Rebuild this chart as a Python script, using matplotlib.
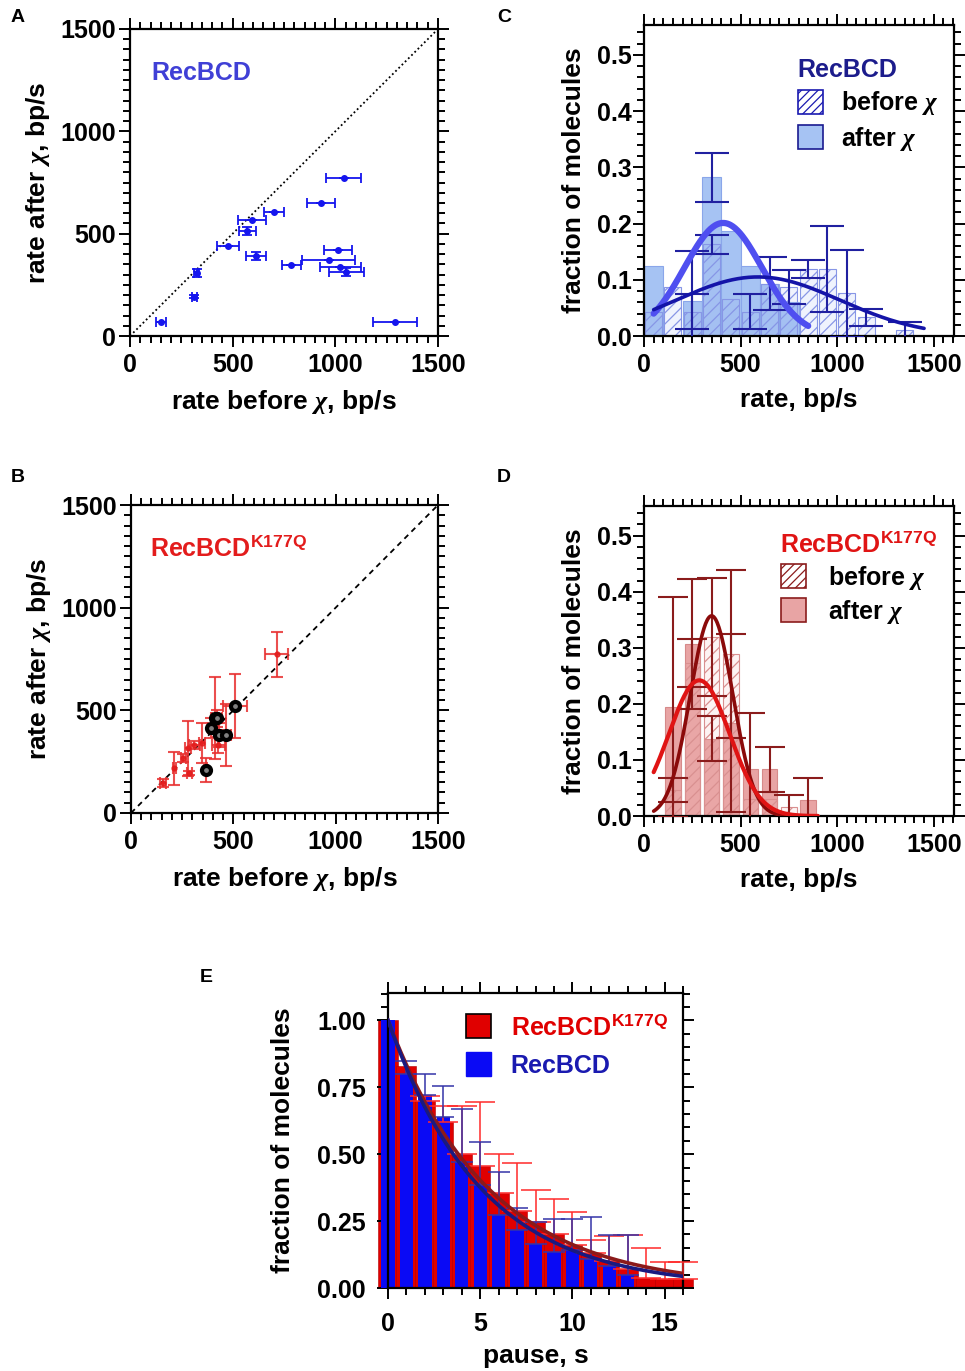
import numpy as np
import matplotlib
matplotlib.use("Agg")
import matplotlib.pyplot as plt
from matplotlib.patches import Patch
from matplotlib.ticker import MultipleLocator

plt.rcParams['font.family'] = ['Liberation Sans', 'DejaVu Sans']
plt.rcParams['font.weight'] = 'bold'
plt.rcParams['axes.labelweight'] = 'bold'
plt.rcParams['mathtext.fontset'] = 'custom'
plt.rcParams['mathtext.rm'] = 'Liberation Sans:bold'
plt.rcParams['mathtext.bf'] = 'Liberation Sans:bold'
plt.rcParams['mathtext.it'] = 'Liberation Serif:italic'
plt.rcParams['hatch.linewidth'] = 0.9

# ---------------- Panel A: RecBCD rate before/after chi ----------------
a_before = [1040, 931, 702, 593, 572, 478, 613, 325, 314, 151, 1014, 967, 785, 1025, 1053, 1289]
a_after = [770, 651, 606, 568, 515, 438, 392, 309, 192, 67, 419, 373, 345, 339, 314, 67]
a_xerr = [84, 68, 49, 67, 42, 54, 49, 12, 13, 24, 69, 128, 46, 99, 85, 107]
a_yerr = [0, 0, 0, 0, 20, 0, 20, 20, 8, 0, 0, 0, 0, 0, 20, 0]

# ---------------- Panel B: RecBCD K177Q ----------------
b_before = [712, 508, 410, 420, 391, 430, 463, 366, 280, 256, 285, 212, 155, 345, 310, 427]
b_after = [773, 521, 461, 461, 415, 380, 380, 209, 315, 266, 196, 218, 145, 339, 330, 331]
b_xerr = [57, 59, 20, 25, 15, 20, 25, 10, 15, 12, 12, 8, 15, 15, 25, 30]
b_yerr = [110, 157, 200, 40, 50, 60, 150, 57, 133, 20, 10, 81, 20, 97, 20, 40]
b_black_before = [508, 410, 420, 391, 430, 463, 366]
b_black_after = [521, 461, 461, 415, 380, 380, 209]

# ---------------- Panel C: RecBCD histograms ----------------
c_centers = [50, 150, 250, 350, 450, 550, 650, 750, 850, 950, 1050, 1150, 1250, 1350, 1450]
c_before = [0.043, 0.087, 0.043, 0.163, 0.065, 0.043, 0.093, 0.087, 0.119, 0.119, 0.076, 0.033, 0.0, 0.011, 0.0]
c_before_err = [0, 0, 0.031, 0.017, 0, 0.031, 0.047, 0.030, 0.016, 0.077, 0.077, 0.015, 0, 0.014, 0]
c_after = [0.125, 0.0, 0.062, 0.282, 0.187, 0.125, 0.093, 0.060, 0, 0, 0, 0, 0, 0, 0]
c_after_err = [0, 0, 0.089, 0.044, 0, 0, 0, 0, 0, 0, 0, 0, 0, 0, 0]
c_fit_after = [0.201, 410, 200, 50, 850]     # amplitude, mean, sd, x from, x to
c_fit_before = [0.105, 590, 425, 50, 1450]

# ---------------- Panel D: RecBCD K177Q histograms ----------------
d_centers = [150, 250, 350, 450, 550, 650, 750, 850]
d_before = [0.046, 0.273, 0.319, 0.289, 0.031, 0.031, 0.016, 0.0]
d_before_err = [0.021, 0.042, 0.105, 0.150, 0, 0, 0.021, 0]
d_after = [0.195, 0.307, 0.138, 0.166, 0.083, 0.083, 0.0, 0.028]
d_after_err = [0.196, 0.116, 0.040, 0.159, 0.10, 0.04, 0, 0.039]
d_fit_before = [0.357, 350, 110, 50, 900]
d_fit_after = [0.242, 286, 157, 50, 900]

# ---------------- Panel E: pause distributions ----------------
e_red_x = list(range(17))
e_red = [1.0, 0.83, 0.70, 0.62, 0.50, 0.456, 0.354, 0.289, 0.246, 0.20, 0.161, 0.13, 0.10, 0.07, 0.037, 0.035, 0.035]
e_red_top = [np.nan, np.nan, 0.717, 0.68, 0.68, 0.693, 0.50, 0.468, 0.366, 0.333, 0.283, 0.18, 0.193, 0.199, 0.149, 0.097, 0.097]
e_blue_x = list(range(14))
e_blue = [1.0, 0.80, 0.72, 0.637, 0.472, 0.385, 0.273, 0.217, 0.165, 0.134, 0.143, 0.109, 0.081, 0.05]
e_blue_top = [np.nan, 0.847, 0.80, 0.755, 0.67, 0.544, 0.432, 0.30, 0.246, 0.257, 0.257, 0.267, 0.199, 0.199]
e_fit_red_tau = 5.5
e_fit_blue_tau = 5.1

W, H = 965, 1371
fig = plt.figure(figsize=(W / 100, H / 100), dpi=100)

FS_TICK = 18
FS_LAB = 19
FS_TXT = 18


def add_ax(x0, y0, x1, y1):
    return fig.add_axes([x0 / W, 1 - y1 / H, (x1 - x0) / W, (y1 - y0) / H])


def style(ax, xmaj, xmin, ymaj, ymin, ypad=2, xpad=4):
    for s in ax.spines.values():
        s.set_linewidth(1.6)
    ax.xaxis.set_major_locator(MultipleLocator(xmaj))
    ax.xaxis.set_minor_locator(MultipleLocator(xmin))
    ax.yaxis.set_major_locator(MultipleLocator(ymaj))
    ax.yaxis.set_minor_locator(MultipleLocator(ymin))
    ax.tick_params(which='both', direction='out', top=True, right=True,
                   width=1.4, labelsize=FS_TICK, colors='black')
    ax.tick_params(which='major', length=8)
    ax.tick_params(which='minor', length=5)
    ax.tick_params(axis='y', which='major', pad=ypad)
    ax.tick_params(axis='x', which='major', pad=xpad)


def gauss(p, n=200):
    amp, mu, sd, x0, x1 = p
    x = np.linspace(x0, x1, n)
    return x, amp * np.exp(-(x - mu) ** 2 / (2 * sd ** 2))


def nz(xs, vals, errs):
    idx = [i for i, e in enumerate(errs) if e > 0]
    return [xs[i] for i in idx], [vals[i] for i in idx], [errs[i] for i in idx]


# ===== Panel A =====
axA = add_ax(130, 29, 438, 336)
axA.plot([0, 1500], [0, 1500], color='black', lw=1.3, ls=(0, (1, 1.5)), zorder=1)
axA.errorbar(a_before, a_after, xerr=a_xerr, yerr=a_yerr, fmt='o', ms=4,
             color='#1515ee', ecolor='#1515ee', elinewidth=1.3, capsize=3.5,
             capthick=1.3, zorder=3)
axA.set_xlim(0, 1500)
axA.set_ylim(0, 1500)
style(axA, 500, 50, 500, 50)
axA.set_xlabel(r'rate before $\chi$, bp/s', fontsize=FS_LAB, labelpad=8)
axA.set_ylabel(r'rate after $\chi$, bp/s', fontsize=FS_LAB, labelpad=6)
axA.text(102, 1285, 'RecBCD', color='#4040d6', fontsize=FS_TXT, va='center', ha='left')

# ===== Panel B =====
axB = add_ax(131, 505, 438, 813)
axB.plot([0, 1500], [0, 1500], color='black', lw=1.3, ls=(0, (3, 2.5)), zorder=1)
axB.errorbar(b_before, b_after, xerr=b_xerr, yerr=b_yerr, fmt='o', ms=3.5,
             color='#e31c1c', ecolor='#e83030', elinewidth=1.5, capsize=4,
             capthick=1.5, alpha=0.85, zorder=3)
axB.plot(b_black_before, b_black_after, 'o', ms=6.5, mfc='#808080', mec='black',
         mew=3.0, zorder=4)
axB.set_xlim(0, 1500)
axB.set_ylim(0, 1500)
style(axB, 500, 50, 500, 50)
axB.set_xlabel(r'rate before $\chi$, bp/s', fontsize=FS_LAB, labelpad=8)
axB.set_ylabel(r'rate after $\chi$, bp/s', fontsize=FS_LAB, labelpad=6)
axB.text(92, 1290, r'RecBCD$^{\mathbf{K177Q}}$', color='#e31c1c', fontsize=FS_TXT,
         va='center', ha='left')

# ===== Panel C =====
axC = add_ax(644, 25, 954, 336)
axC.bar(c_centers, c_after, width=100, color='#a6c3f3', edgecolor='#8aa6ea',
        linewidth=0.8, zorder=1)
axC.bar(c_centers, c_before, width=88, facecolor=(0.6, 0.7, 0.95, 0.15),
        edgecolor='#8796e6', hatch='///', linewidth=0.8, zorder=2)
x, y, e = nz(c_centers, c_before, c_before_err)
axC.errorbar(x, y, yerr=e, fmt='none', ecolor='#2020a0', elinewidth=1.5,
             capsize=12, capthick=1.5, zorder=4)
x, y, e = nz(c_centers, c_after, c_after_err)
axC.errorbar(x, y, yerr=e, fmt='none', ecolor='#2020a0', elinewidth=1.5,
             capsize=12, capthick=1.5, zorder=4)
gx, gy = gauss(c_fit_after)
axC.plot(gx, gy, color='#4f4ff0', lw=4.5, solid_capstyle='round', zorder=5)
gx, gy = gauss(c_fit_before)
axC.plot(gx, gy, color='#1414a8', lw=2.6, solid_capstyle='round', zorder=5)
axC.set_xlim(0, 1605)
axC.set_ylim(0, 0.553)
style(axC, 500, 50, 0.1, 0.02, ypad=1)
axC.set_xlabel('rate, bp/s', fontsize=FS_LAB, labelpad=8)
axC.set_ylabel('fraction of molecules', fontsize=FS_LAB, labelpad=8)
legC = axC.legend(handles=[Patch(facecolor='white', edgecolor='#1a1ab0', hatch='////', lw=1.2),
                           Patch(facecolor='#a6c3f3', edgecolor='#1a1a90', lw=1.2)],
                  labels=[r'before $\chi$', r'after $\chi$'], title='RecBCD',
                  loc='upper left', bbox_to_anchor=(0.455, 0.935), frameon=False,
                  fontsize=FS_TXT, title_fontsize=FS_TXT, handlelength=1.0, handleheight=1.1,
                  handletextpad=0.75, labelspacing=0.3, alignment='left', borderpad=0)
legC.get_title().set_color('#1c1c8c')
legC.get_title().set_fontweight('bold')

# ===== Panel D =====
axD = add_ax(644, 506, 954, 816)
axD.bar(d_centers, d_after, width=80, color='#e8a4a4', edgecolor='#d68a8a',
        linewidth=0.8, zorder=1)
axD.bar(d_centers, d_before, width=80, facecolor=(0.95, 0.7, 0.7, 0.15),
        edgecolor='#d99090', hatch='///', linewidth=0.8, zorder=2)
x, y, e = nz(d_centers, d_before, d_before_err)
axD.errorbar(x, y, yerr=e, fmt='none', ecolor='#8b1c1c', elinewidth=1.5,
             capsize=11, capthick=1.5, zorder=4)
x, y, e = nz(d_centers, d_after, d_after_err)
axD.errorbar(x, y, yerr=e, fmt='none', ecolor='#8b1c1c', elinewidth=1.5,
             capsize=11, capthick=1.5, zorder=4)
gx, gy = gauss(d_fit_before)
axD.plot(gx, gy, color='#8b0a0a', lw=2.6, solid_capstyle='round', zorder=5)
gx, gy = gauss(d_fit_after)
axD.plot(gx, gy, color='#e01414', lw=3.0, solid_capstyle='round', zorder=5)
axD.set_xlim(0, 1605)
axD.set_ylim(0, 0.553)
style(axD, 500, 50, 0.1, 0.02, ypad=1)
axD.set_xlabel('rate, bp/s', fontsize=FS_LAB, labelpad=8)
axD.set_ylabel('fraction of molecules', fontsize=FS_LAB, labelpad=8)
legD = axD.legend(handles=[Patch(facecolor='white', edgecolor='#8b1c1c', hatch='////', lw=1.2),
                           Patch(facecolor='#e8a4a4', edgecolor='#8b1c1c', lw=1.2)],
                  labels=[r'before $\chi$', r'after $\chi$'],
                  title=r'RecBCD$^{\mathbf{K177Q}}$',
                  loc='upper left', bbox_to_anchor=(0.40, 0.955), frameon=False,
                  fontsize=FS_TXT, title_fontsize=FS_TXT, handlelength=1.0, handleheight=1.1,
                  handletextpad=0.9, labelspacing=0.25, alignment='left', borderpad=0)
legD.get_title().set_color('#e01414')
legD.get_title().set_fontweight('bold')

# ===== Panel E =====
axE = add_ax(388, 993, 683, 1288)
axE.bar(e_red_x, e_red, width=1.08, color='#e00000', edgecolor='#b00000',
        linewidth=0.4, clip_on=False, zorder=1)
axE.bar(e_blue_x, e_blue, width=0.72, color='#0a0af5', clip_on=False, zorder=2)
red_up = [t - v for t, v in zip(e_red_top, e_red)]
ok = [i for i, t in enumerate(e_red_top) if not np.isnan(t)]
axE.errorbar([e_red_x[i] for i in ok], [e_red[i] for i in ok],
             yerr=[[0] * len(ok), [red_up[i] for i in ok]], fmt='none',
             ecolor='#ff2a2a', elinewidth=1.1, capsize=11, capthick=1.1,
             clip_on=False, zorder=3)
blue_up = [t - v for t, v in zip(e_blue_top, e_blue)]
ok = [i for i, t in enumerate(e_blue_top) if not np.isnan(t)]
axE.errorbar([e_blue_x[i] for i in ok], [e_blue[i] for i in ok],
             yerr=[[0] * len(ok), [blue_up[i] for i in ok]], fmt='none',
             ecolor='#3434a8', elinewidth=1.1, capsize=8, capthick=1.1,
             clip_on=False, zorder=3)
tx = np.linspace(0, 16, 200)
axE.plot(tx, np.exp(-tx / e_fit_red_tau), color='#8b1a1a', lw=2.6, zorder=5)
axE.plot(tx, np.exp(-tx / e_fit_blue_tau), color='#1a1a80', lw=2.6, zorder=5)
axE.set_xlim(0, 16)
axE.set_ylim(0, 1.102)
style(axE, 5, 1, 0.25, 0.05, ypad=8, xpad=9)
axE.set_xlabel('pause, s', fontsize=FS_LAB, labelpad=6)
axE.set_ylabel('fraction of molecules', fontsize=FS_LAB, labelpad=16)
legE = axE.legend(handles=[Patch(facecolor='#e00000', edgecolor='black', lw=1.2),
                           Patch(facecolor='#0a0af5', edgecolor='#0a0af5')],
                  labels=[r'RecBCD$^{\mathbf{K177Q}}$', 'RecBCD'],
                  labelcolor=['#e00000', '#1a1ab0'],
                  loc='upper right', bbox_to_anchor=(0.99, 0.97), frameon=False,
                  fontsize=FS_TXT, handlelength=1.0, handleheight=1.1,
                  handletextpad=0.8, labelspacing=0.5, borderpad=0)

# panel letters
for lab, xx, yy in [('A', 11, 18), ('C', 497, 18), ('B', 11, 477), ('D', 497, 477), ('E', 200, 978)]:
    fig.text(xx / W, 1 - yy / H, lab, fontsize=14, fontweight='bold', va='center', ha='left')

fig.savefig('out.png', dpi=100)
